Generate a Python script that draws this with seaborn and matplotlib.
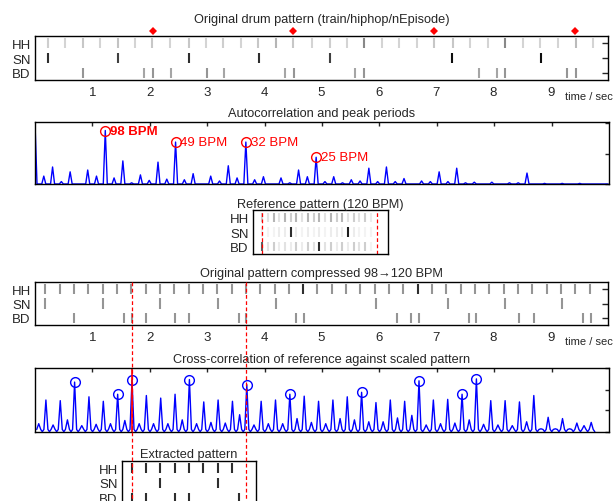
import numpy as np
import pandas as pd
import matplotlib
matplotlib.use('Agg')
import matplotlib.pyplot as plt
import matplotlib.transforms as mtransforms
from matplotlib.lines import Line2D
import seaborn as sns

rows = ['HH', 'SN', 'BD']

# original drum pattern: onset times (sec) and strength 0..1
orig_hh_t = [0.23, 0.52, 0.83, 1.13, 1.44, 1.75, 2.05, 2.36, 2.68, 2.98, 3.28, 3.59, 3.90, 4.21, 4.51, 4.83,
             5.14, 5.44, 5.75, 6.05, 6.36, 6.66, 6.97, 7.29, 7.59, 7.90, 8.21, 8.51, 8.81, 9.12, 9.44, 9.74]
orig_hh_v = [0.3, 0.27, 0.33, 0.27, 0.35, 0.27, 0.33, 0.27, 0.33, 0.27, 0.3, 0.27, 0.33, 0.4, 0.33, 0.27,
             0.3, 0.27, 0.55, 0.27, 0.27, 0.27, 0.33, 0.33, 0.27, 0.27, 0.55, 0.27, 0.27, 0.27, 0.38, 0.27]
orig_sn_t = [0.23, 1.45, 2.69, 3.91, 5.14, 7.28, 8.83]
orig_sn_v = [0.85, 0.8, 0.85, 0.85, 0.8, 0.95, 0.95]
orig_bd_t = [0.83, 1.91, 2.06, 2.37, 3.00, 3.30, 4.36, 4.52, 5.58, 5.75, 7.75, 8.06, 8.21, 9.28, 9.44]
orig_bd_v = [0.5, 0.45, 0.5, 0.45, 0.5, 0.45, 0.45, 0.5, 0.45, 0.5, 0.45, 0.45, 0.5, 0.5, 0.5]
beat_marks = [2.06, 4.51, 6.97, 9.42]

# autocorrelation, one value per 16th note lag at 98 BPM
ac_step = 60 / 98 / 4
ac_vals = [1.0, 0.13, 0.28, 0.04, 0.20, 0.0, 0.23, 0.13, 0.88, 0.10, 0.38, 0.02, 0.15, 0.06, 0.36, 0.08,
           0.69, 0.07, 0.17, 0.0, 0.13, 0.05, 0.30, 0.10, 0.69, 0.07, 0.12, 0.0, 0.10, 0.02, 0.23, 0.12,
           0.44, 0.04, 0.12, 0.02, 0.07, 0.05, 0.26, 0.04, 0.28, 0.04, 0.09, 0.0, 0.05, 0.04, 0.20, 0.04,
           0.26, 0.02, 0.03, 0.0, 0.03, 0.0, 0.02, 0.02, 0.18, 0.0, 0.01, 0.0, 0.01, 0.0, 0.01, 0.0, 0.0, 0.0]
ac_peaks = [8, 16, 24, 32]
ac_labels = ['98 BPM', '49 BPM', '32 BPM', '25 BPM']

# reference pattern (120 BPM), one bar
ref_t = [0.0, 0.1, 0.2, 0.3, 0.4, 0.5, 0.6, 0.7, 0.8, 0.9, 1.0, 1.1, 1.2, 1.3, 1.4, 1.5, 1.6, 1.7, 1.8, 1.9]
ref_hh_v = [0.3, 0.2, 0.4, 0.2, 0.4, 0.3, 0.4, 0.2, 0.4, 0.3, 0.4, 0.2, 0.4, 0.3, 0.4, 0.2, 0.3, 0.2, 0.3, 0.15]
ref_sn_v = [0.15, 0.1, 0.1, 0.15, 0.15, 0.85, 0.15, 0.1, 0.15, 0.1, 0.15, 0.1, 0.15, 0.15, 0.15, 0.9, 0.15, 0.1, 0.1, 0.1]
ref_bd_v = [0.7, 0.2, 0.3, 0.15, 0.2, 0.15, 0.3, 0.15, 0.3, 0.2, 0.85, 0.2, 0.3, 0.15, 0.3, 0.15, 0.3, 0.2, 0.3, 0.1]

# pattern compressed 98 -> 120 BPM
comp_hh_t = [0.18, 0.43, 0.68, 0.93, 1.18, 1.43, 1.68, 1.93, 2.18, 2.43, 2.68, 2.93, 3.18, 3.43, 3.68, 3.93,
             4.18, 4.43, 4.68, 4.93, 5.18, 5.43, 5.68, 5.93, 6.18, 6.43, 6.68, 6.93, 7.18, 7.43, 7.68, 7.93,
             8.18, 8.43, 8.68, 8.93, 9.18, 9.43, 9.68]
comp_hh_v = [0.5] * 18 + [0.85] + [0.5] * 7 + [0.85] + [0.5] * 12
comp_sn_t = [0.18, 1.19, 2.19, 3.19, 4.20, 5.95, 7.20, 8.20, 9.20]
comp_sn_v = [0.5] * 9
comp_bd_t = [0.68, 1.56, 1.69, 1.94, 2.44, 2.69, 3.56, 3.69, 4.56, 4.69, 6.32, 6.57, 6.70, 7.57, 7.70,
             8.45, 8.70, 9.57, 9.70]
comp_bd_v = [0.5] * 19

# cross-correlation, one value per 16th note lag at 120 BPM
xc_start, xc_step = 0.065, 0.125
xc_vals = [0.13, 0.50, 0.11, 0.49, 0.19, 0.78, 0.10, 0.55, 0.12, 0.48, 0.13, 0.59, 0.18, 0.81, 0.13, 0.57,
           0.13, 0.53, 0.13, 0.59, 0.19, 0.82, 0.13, 0.47, 0.15, 0.50, 0.14, 0.48, 0.27, 0.74, 0.11, 0.48,
           0.13, 0.50, 0.13, 0.59, 0.21, 0.56, 0.15, 0.48, 0.13, 0.50, 0.21, 0.55, 0.19, 0.62, 0.16, 0.46,
           0.16, 0.50, 0.22, 0.48, 0.26, 0.80, 0.11, 0.50, 0.13, 0.51, 0.14, 0.59, 0.19, 0.83, 0.12, 0.49,
           0.11, 0.49, 0.10, 0.47, 0.16, 0.57, 0.05, 0.23, 0.05, 0.21, 0.05, 0.14, 0.10, 0.15]
xc_peaks = [5, 11, 13, 21, 29, 35, 45, 53, 59, 61]
xc_best = 13
bar_edges = [1.69, 3.69]

# extracted bar (relative time)
ext_hh_t = [0.0, 0.25, 0.5, 0.75, 1.0, 1.25, 1.5, 1.75]
ext_sn_t = [0.5, 1.5]
ext_bd_t = [0.0, 0.25, 0.75, 1.0, 1.88]


def events(hh_t, hh_v, sn_t, sn_v, bd_t, bd_v):
    parts = []
    for r, (t, v) in enumerate([(hh_t, hh_v), (sn_t, sn_v), (bd_t, bd_v)], start=1):
        parts.append(pd.DataFrame({'t': t, 'row': r, 'v': v}))
    return pd.concat(parts, ignore_index=True)


def spikes(lags, vals, hw, base=0.0, trough=None):
    lags = np.asarray(lags, float)
    vals = np.asarray(vals, float)
    n = len(lags)
    if trough is None:
        x = np.column_stack([lags - hw, lags, lags + hw]).ravel()
        y = np.column_stack([np.full(n, base), vals, np.full(n, base)]).ravel()
    else:
        mid = lags + (lags[1] - lags[0]) / 2
        x = np.column_stack([lags - hw, lags, lags + hw, mid]).ravel()
        y = np.column_stack([np.full(n, base), vals, np.full(n, base), np.full(n, trough)]).ravel()
    return x, y


sns.set_style('white')
plt.rcParams['font.family'] = ['Liberation Sans', 'DejaVu Sans']
plt.rcParams['axes.linewidth'] = 1.0
plt.rcParams['axes.edgecolor'] = 'black'

W, H = 614, 502
fig = plt.figure(figsize=(W / 100, H / 100), dpi=100)


def box(x0, y0, x1, y1):
    return [x0 / W, 1 - y1 / H, (x1 - x0) / W, (y1 - y0) / H]


FS = 9.5
TFS = 9.2


def draw_pattern(ax, df, xlim, ytick_len=4, s=52):
    sns.scatterplot(data=df, x='t', y='row', hue='v', palette='Greys', hue_norm=(0, 1),
                    marker='|', s=s, linewidth=1.5, legend=False, ax=ax)
    ax.set_xlim(*xlim)
    ax.set_ylim(3.5, 0.5)
    ax.set_yticks([1, 2, 3], rows)
    ax.set_xlabel('')
    ax.set_ylabel('')
    ax.tick_params(axis='y', direction='in', length=ytick_len, width=1, right=True,
                   labelsize=FS, pad=3)
    ax.tick_params(axis='x', length=0, labelsize=FS, pad=4)
    for sp in ax.spines.values():
        sp.set_visible(True)
        sp.set_color('black')


def time_axis(ax):
    ax.set_xticks(range(1, 10))
    ax.text(9.25, -0.37, 'time / sec', fontsize=8,
            transform=mtransforms.blended_transform_factory(ax.transData, ax.transAxes),
            ha='left', va='center')


# original pattern
ax1 = fig.add_axes(box(35, 37, 608, 81))
draw_pattern(ax1, events(orig_hh_t, orig_hh_v, orig_sn_t, orig_sn_v, orig_bd_t, orig_bd_v), (0, 10))
time_axis(ax1)
ax1.plot(beat_marks, [1.11] * len(beat_marks), 'D', color='red', ms=3.8, mew=0, clip_on=False,
         transform=mtransforms.blended_transform_factory(ax1.transData, ax1.transAxes))
ax1.set_title('Original drum pattern (train/hiphop/nEpisode)', fontsize=TFS, pad=10)

# autocorrelation
ax2 = fig.add_axes(box(35, 123, 609, 185))
ac_lags = np.arange(len(ac_vals)) * ac_step
x, y = spikes(ac_lags, ac_vals, 0.035)
sns.lineplot(x=x, y=y, color='blue', lw=1, estimator=None, sort=False, ax=ax2)
for i, (k, lab) in enumerate(zip(ac_peaks, ac_labels)):
    ax2.plot(ac_lags[k], ac_vals[k], 'o', mfc='none', mec='red', ms=7, mew=1)
    ax2.annotate(lab, (ac_lags[k], ac_vals[k]), xytext=(3.5, 0), textcoords='offset points',
                 color='red', fontsize=9.5, va='center', ha='left',
                 fontweight='bold' if i == 0 else 'normal')
ax2.set_xlim(0, 10)
ax2.set_ylim(0, 1.02)
ax2.set_xticks(range(1, 10))
ax2.set_yticks([0, 0.5, 1.0])
ax2.tick_params(direction='in', length=3, width=1, top=True, right=True,
                labelbottom=False, labelleft=False)
ax2.set_title('Autocorrelation and peak periods', fontsize=TFS, pad=4)

# reference pattern
ax3 = fig.add_axes(box(253, 211, 388, 255))
draw_pattern(ax3, events(ref_t, ref_hh_v, ref_t, ref_sn_v, ref_t, ref_bd_v), (-0.16, 2.2),
             ytick_len=0, s=45)
ax3.set_xticks([])
for xv in (0.0, 2.0):
    ax3.axvline(xv, color='red', ls=(0, (3, 2)), lw=0.9)
ax3.set_title('Reference pattern (120 BPM)', fontsize=TFS, pad=2.5)

# compressed pattern
ax4 = fig.add_axes(box(35, 283, 608, 326))
draw_pattern(ax4, events(comp_hh_t, comp_hh_v, comp_sn_t, comp_sn_v, comp_bd_t, comp_bd_v), (0, 10))
time_axis(ax4)
ax4.set_title('Original pattern compressed 98\u2192120 BPM', fontsize=TFS, pad=4)

# cross-correlation
ax5 = fig.add_axes(box(35, 369, 609, 433))
xc_lags = xc_start + np.arange(len(xc_vals)) * xc_step
x, y = spikes(xc_lags, xc_vals, 0.035, base=0.04, trough=0.005)
sns.lineplot(x=x, y=y, color='blue', lw=1, estimator=None, sort=False, ax=ax5)
ax5.plot(xc_lags[xc_peaks], np.asarray(xc_vals)[xc_peaks], 'o', mfc='none', mec='blue', ms=7, mew=1)
ax5.axvline(xc_lags[xc_best], color='red', lw=1.2)
ax5.set_xlim(0, 10)
ax5.set_ylim(0, 1)
ax5.set_xticks(range(1, 10))
ax5.set_yticks([0, 0.337, 0.658, 1.0])
ax5.tick_params(direction='in', length=3, width=1, top=True, right=True,
                labelbottom=False, labelleft=False)
ax5.set_title('Cross-correlation of reference against scaled pattern', fontsize=TFS, pad=4)

# extracted pattern
ax6 = fig.add_axes(box(122, 462, 256, 506))
draw_pattern(ax6, events(ext_hh_t, [0.85] * len(ext_hh_t), ext_sn_t, [0.85] * len(ext_sn_t),
                         ext_bd_t, [0.85] * len(ext_bd_t)), (-0.17, 2.17), ytick_len=0)
ax6.set_xticks([])
ax6.set_title('Extracted pattern', fontsize=TFS, pad=3)

# dashed guides from compressed pattern down to the extracted bar
blend = mtransforms.blended_transform_factory(ax4.transData, fig.transFigure)
for xv in bar_edges:
    fig.add_artist(Line2D([xv, xv], [1 - 283 / H, 0], transform=blend, color='red',
                          ls=(0, (3, 2)), lw=0.9, zorder=10))

fig.savefig('out.png', dpi=100, facecolor='white')
